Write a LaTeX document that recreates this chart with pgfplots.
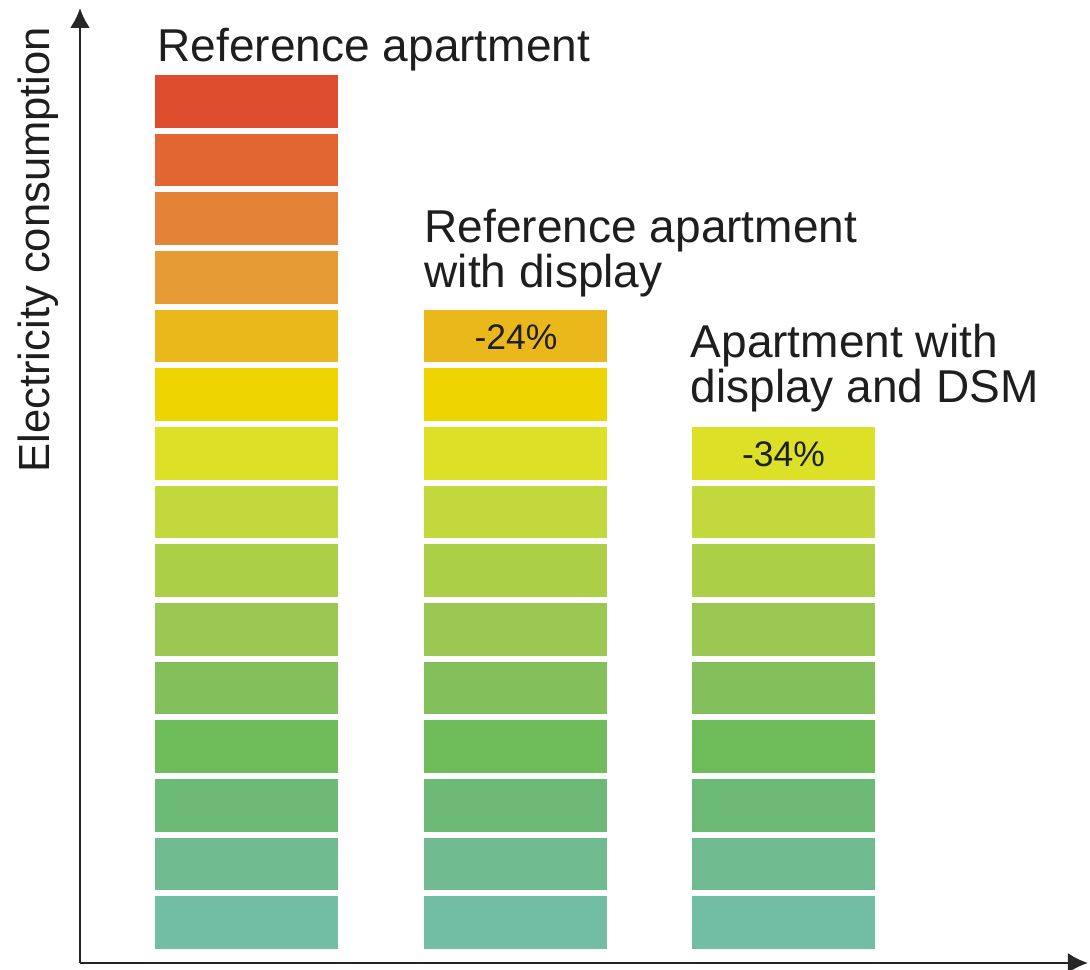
\documentclass[border=0pt]{standalone}
\usepackage{pgfplots}
\pgfplotsset{compat=1.18}
\usepackage{fontspec}
\setmainfont{Liberation Sans}
\usetikzlibrary{arrows.meta}

% segment colours, bottom (1) to top (15)
\definecolor{s1}{HTML}{72BEA5}
\definecolor{s2}{HTML}{70BC90}
\definecolor{s3}{HTML}{6CBA76}
\definecolor{s4}{HTML}{6EBC5A}
\definecolor{s5}{HTML}{83C05B}
\definecolor{s6}{HTML}{9BC853}
\definecolor{s7}{HTML}{ABD048}
\definecolor{s8}{HTML}{C2D83D}
\definecolor{s9}{HTML}{DCE128}
\definecolor{s10}{HTML}{EED400}
\definecolor{s11}{HTML}{EAB81B}
\definecolor{s12}{HTML}{E69B35}
\definecolor{s13}{HTML}{E48337}
\definecolor{s14}{HTML}{E26632}
\definecolor{s15}{HTML}{DF4D2F}
\definecolor{txt}{HTML}{1E1E1E}

\begin{document}
\begin{tikzpicture}
\begin{axis}[
  scale only axis, width=100.8mm, height=95.5mm,
  at={(0,0)}, anchor=south west,
  xmin=80, xmax=1088, ymin=-0.19, ymax=16.09,
  axis lines=left,
  axis line style={line width=0.7pt, black!85, -{Latex[length=2mm,width=2mm]}},
  xtick=\empty, ytick=\empty,
  ybar stacked, bar width=189,
  clip=false,
]
\addplot[fill=s1, draw=white, line width=0.6mm] coordinates {(247,1) (516,1) (783.5,1)};
\addplot[fill=s2, draw=white, line width=0.6mm] coordinates {(247,1) (516,1) (783.5,1)};
\addplot[fill=s3, draw=white, line width=0.6mm] coordinates {(247,1) (516,1) (783.5,1)};
\addplot[fill=s4, draw=white, line width=0.6mm] coordinates {(247,1) (516,1) (783.5,1)};
\addplot[fill=s5, draw=white, line width=0.6mm] coordinates {(247,1) (516,1) (783.5,1)};
\addplot[fill=s6, draw=white, line width=0.6mm] coordinates {(247,1) (516,1) (783.5,1)};
\addplot[fill=s7, draw=white, line width=0.6mm] coordinates {(247,1) (516,1) (783.5,1)};
\addplot[fill=s8, draw=white, line width=0.6mm] coordinates {(247,1) (516,1) (783.5,1)};
\addplot[fill=s9, draw=white, line width=0.6mm] coordinates {(247,1) (516,1) (783.5,1)};
\addplot[fill=s10, draw=white, line width=0.6mm] coordinates {(247,1) (516,1) (783.5,0)};
\addplot[fill=s11, draw=white, line width=0.6mm] coordinates {(247,1) (516,1) (783.5,0)};
\addplot[fill=s12, draw=white, line width=0.6mm] coordinates {(247,1) (516,0) (783.5,0)};
\addplot[fill=s13, draw=white, line width=0.6mm] coordinates {(247,1) (516,0) (783.5,0)};
\addplot[fill=s14, draw=white, line width=0.6mm] coordinates {(247,1) (516,0) (783.5,0)};
\addplot[fill=s15, draw=white, line width=0.6mm] coordinates {(247,1) (516,0) (783.5,0)};

\coordinate (p24) at (axis cs:516,10.26);
\coordinate (p34) at (axis cs:783.5,8.28);

\node[text=txt, inner sep=0pt, anchor=base west, font=\fontsize{13.1}{13}\selectfont] at (axis cs:157,15.17) {Reference apartment};
\node[text=txt, inner sep=0pt, anchor=base west, font=\fontsize{13.1}{13}\selectfont] at (axis cs:424,12.10) {Reference apartment};
\node[text=txt, inner sep=0pt, anchor=base west, font=\fontsize{13.1}{13}\selectfont] at (axis cs:424,11.32) {with display};
\node[text=txt, inner sep=0pt, anchor=base west, font=\fontsize{13.1}{13}\selectfont] at (axis cs:690,10.14) {Apartment with};
\node[text=txt, inner sep=0pt, anchor=base west, font=\fontsize{13.1}{13}\selectfont] at (axis cs:690,9.36) {display and DSM};
\node[text=txt, inner sep=0pt, anchor=base, rotate=90, font=\fontsize{12.4}{12}\selectfont] at (axis cs:49,11.97) {Electricity consumption};
\end{axis}
\node[text=txt, inner sep=0pt, anchor=base, font=\fontsize{10.1}{10}\selectfont] at (p24) {-24\%};
\node[text=txt, inner sep=0pt, anchor=base, font=\fontsize{10.1}{10}\selectfont] at (p34) {-34\%};
\pgfresetboundingbox
\path[use as bounding box] (-8mm,-0.7mm) rectangle (101mm,96.3mm);
\end{tikzpicture}
\end{document}
